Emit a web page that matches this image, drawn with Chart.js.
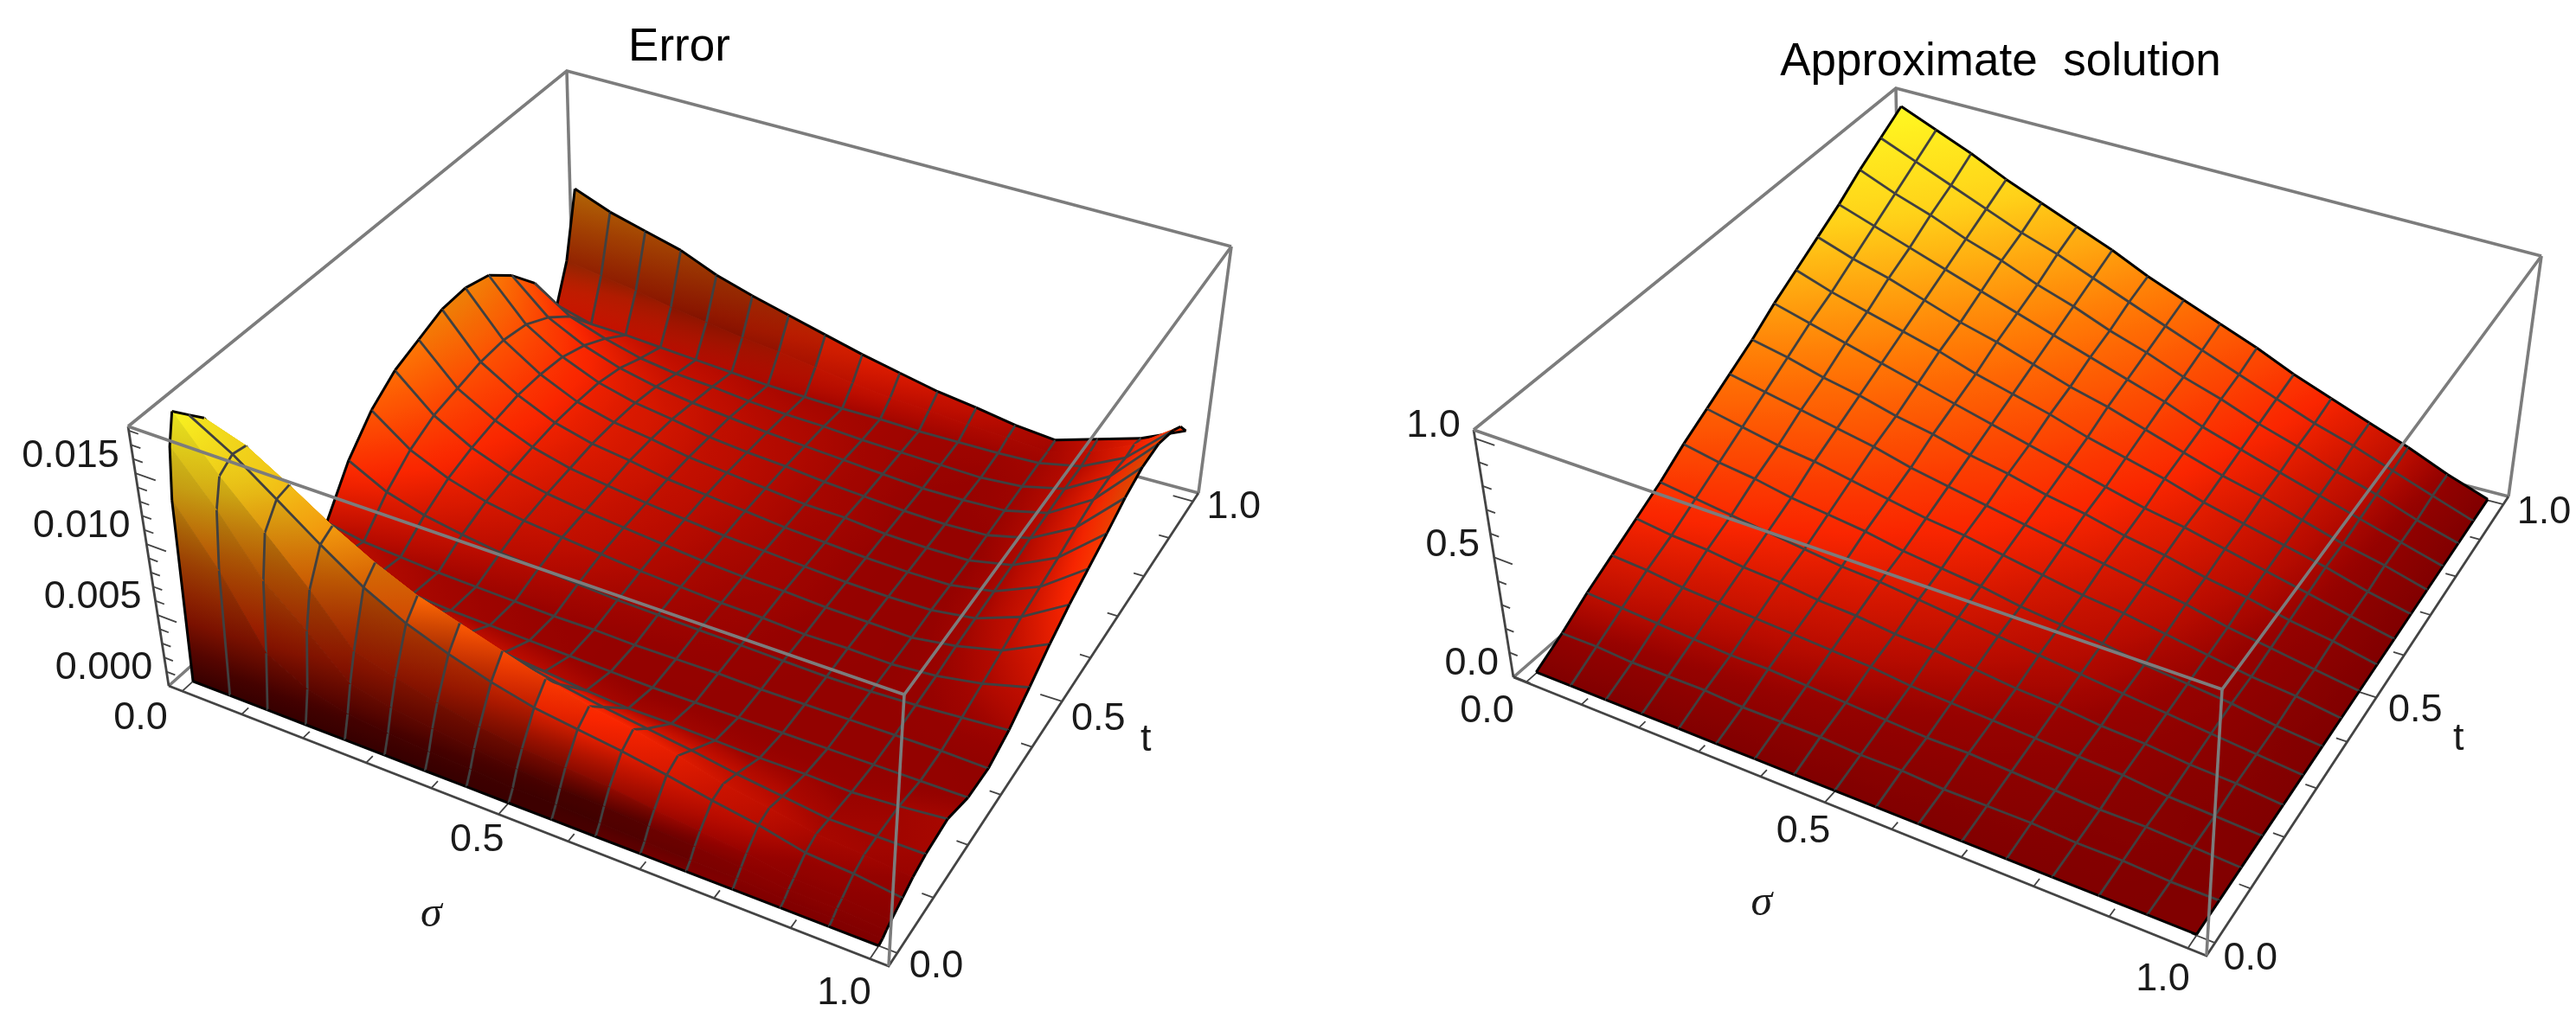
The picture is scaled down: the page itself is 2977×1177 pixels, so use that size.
<!DOCTYPE html>
<html>
<head>
<meta charset="utf-8">
<title>Error and approximate solution</title>
<script src="https://cdn.jsdelivr.net/npm/chart.js@4"></script>
<style>
html,body{margin:0;padding:0;background:#fff;width:2977px;height:1177px;overflow:hidden}
canvas{position:absolute;top:0}
</style>
</head>
<body>
<canvas id="errChart" width="1570" height="1177" style="left:0"></canvas>
<canvas id="solChart" width="1424" height="1177" style="left:1600px"></canvas>
<script>
// mesh columns, shared by both surfaces
const sigmaVals=[0,.0625,.125,.1875,.25,.3125,.375,.4375,.5,.5625,.625,.6875,.75,.8125,.875,.9375,1];

// Error surface. Extra t rows near 0 and 1 follow the steep walls.
const errT=[0,.01,.02,.033,.0625,.09,.125,.1875,.25,.3125,.375,.4375,.5,.5625,.625,.6875,.75,.8125,.875,.9375,.97,1];
// units of 1e-4
const errZ=[
[0,0,0,0,0,0,0,0,0,0,0,0,0,0,0,0,0],
[125,85,37,22,15,12,10,9,7,7,6,5,4,4,2,2,1],
[160,125,85,60,33,27,23,20,17,15,14,12,10,8,5,5,3],
[181,145,115,85,52,44,37,31,27,25,23,19,16,13,8,7,5],
[170,152,130,108,88,73,62,53,46,42,38,33,27,22,15,13,9],
[160,150,132,113,97,84,75,66,57,49,44,37,29,24,18,16,13],
[132,113,95,81,70,60,53,48,42,37,33,29,24,20,16,16,16],
[70,59,48,37,31,27,24,21,18,16,16,15,14,14,13,15,18],
[27,26,21,18,16,15,14,13,12,11,11,11,11,11,11,11,11],
[25,20,18,16,15,14,13,13,12,12,12,11,11,11,11,11,10],
[53,39,31,26,22,20,18,16,15,14,13,12,11,11,12,14,16],
[73,53,41,33,28,25,22,19,17,15,14,12,12,11,13,18,26],
[86,62,47,37,31,27,24,21,18,16,15,13,12,11,15,22,37],
[93,66,51,40,33,29,25,22,19,17,15,13,12,12,16,27,46],
[100,70,54,42,35,31,26,23,20,17,15,13,12,12,17,30,53],
[101,71,54,42,35,31,26,23,20,17,16,13,12,12,18,33,60],
[96,68,52,41,34,30,25,22,20,17,15,13,12,13,20,37,68],
[82,59,46,37,31,27,24,21,19,17,15,13,13,14,21,40,73],
[63,46,37,30,26,24,21,19,18,16,15,14,13,15,22,40,73],
[34,27,26,24,22,20,18,17,16,16,15,15,15,16,22,37,66],
[59,55,51,46,42,38,35,31,27,24,22,20,18,16,24,38,60],
[105,95,88,81,70,62,55,48,41,35,29,25,20,17,26,35,49]
];
const errAxisRange=[0,183];
const errZTicks=[0,10,20,30,40,50,60,70,80,90,100,110,120,130,140,150,160,170,180];
const errZMajor=[0,50,100,150];
const errZLabels=['0.000','0.005','0.010','0.015'];

// Approximate solution surface
const solT=[0,.0625,.125,.1875,.25,.3125,.375,.4375,.5,.5625,.625,.6875,.75,.8125,.875,.9375,1];
const solZ=[
[0,0,0,0,0,0,0,0,0,0,0,0,0,0,0,0,0],
[.06,.06,.05,.05,.05,.04,.04,.04,.03,.03,.02,.02,.02,.01,.01,0,0],
[.13,.12,.11,.10,.09,.09,.08,.07,.06,.05,.05,.04,.03,.02,.02,.01,0],
[.19,.18,.16,.15,.14,.13,.12,.11,.09,.08,.07,.06,.05,.04,.02,.01,0],
[.25,.23,.22,.20,.19,.17,.16,.14,.13,.11,.09,.08,.06,.05,.03,.02,0],
[.31,.29,.27,.25,.23,.21,.20,.18,.16,.14,.12,.10,.08,.06,.04,.02,0],
[.38,.35,.33,.30,.28,.26,.23,.21,.19,.16,.14,.12,.09,.07,.05,.02,0],
[.44,.41,.38,.36,.33,.30,.27,.25,.22,.19,.16,.14,.11,.08,.05,.03,0],
[.50,.47,.44,.41,.38,.34,.31,.28,.25,.22,.19,.16,.13,.09,.06,.03,0],
[.56,.53,.49,.46,.42,.39,.35,.32,.28,.25,.21,.18,.14,.11,.07,.04,0],
[.63,.59,.55,.51,.47,.43,.39,.35,.31,.27,.23,.20,.16,.12,.08,.04,0],
[.69,.64,.60,.56,.52,.47,.43,.39,.34,.30,.26,.21,.17,.13,.09,.04,0],
[.75,.70,.66,.61,.56,.52,.47,.42,.38,.33,.28,.23,.19,.14,.09,.05,0],
[.81,.76,.71,.66,.61,.56,.51,.46,.41,.36,.30,.25,.20,.15,.10,.05,0],
[.88,.82,.77,.71,.66,.60,.55,.49,.44,.38,.33,.27,.22,.16,.11,.05,0],
[.94,.88,.82,.76,.70,.65,.59,.53,.47,.41,.35,.29,.23,.18,.12,.06,0],
[1,.94,.88,.81,.75,.69,.63,.56,.5,.44,.38,.31,.25,.19,.13,.06,0]
];
const solAxisRange=[-.004,1.036];
const solZTicks=[0,.1,.2,.3,.4,.5,.6,.7,.8,.9,1];
const solZMajor=[0,.5,1];
const solZLabels=['0.0','0.5','1.0'];

// ticks on the two floor axes
const floorTicks=[0,.1,.2,.3,.4,.5,.6,.7,.8,.9,1];
const floorMajor=[0,.5,1];
const floorLabels=['0.0','0.5','1.0'];

// colour ramp of the surface, by height as a share of the box
const rampAt=[0,.07,.12,.25,.5,.75,1];
const rampRGB=[[128,0,0],[150,2,0],[185,12,0],[250,38,0],[255,120,5],[255,210,25],[255,255,35]];

const GRAY='#7c7c7c',MESH='#404040',AXIS='#444444';
const LABEL_FONT='45px "Liberation Sans"';

// box corners on screen, camera of each panel
const errView={
  floor:[[195,793],[1027,1117],[1385,570],[663,375]],
  top:[[148,493],[1045,803],[1423,285],[655,82]],
  pad:.022,
  zGap:[-75,-20],
  sGap:[[-48,32],[-25,30],[-30,40]],
  tGap:[[45,16],[42,21],[47,7]],
  sigmaGap:[-78,116],letterGap:[97,45]
};
const solView={
  floor:[[1749,783],[2550,1105],[2899,574],[2197,392]],
  top:[[1703,497],[2568,797],[2937,296],[2191,102]],
  pad:.022,
  zGap:[-48,-14],
  sGap:[[-45,34],[-25,34],[-29,36]],
  tGap:[[41,19],[45,15],[47,9]],
  sigmaGap:[-73,117],letterGap:[95,48]
};

function homography(q){
  const [[x0,y0],[x1,y1],[x2,y2],[x3,y3]]=q;
  const dx1=x1-x2,dx2=x3-x2,sx=x0-x1+x2-x3,dy1=y1-y2,dy2=y3-y2,sy=y0-y1+y2-y3;
  const den=dx1*dy2-dx2*dy1;
  const g=(sx*dy2-dx2*sy)/den,h=(dx1*sy-sx*dy1)/den;
  const a=x1-x0+g*x1,b=x3-x0+h*x3,d=y1-y0+g*y1,e=y3-y0+h*y3;
  return (u,v)=>{const w=g*u+h*v+1;return [(a*u+b*v+x0)/w,(d*u+e*v+y0)/w];};
}

function rampColor(v){
  v=Math.max(0,Math.min(1,v));
  let k=0;
  while(k<rampAt.length-2&&v>rampAt[k+1]) k++;
  const f=(v-rampAt[k])/(rampAt[k+1]-rampAt[k]);
  return rampRGB[k].map((c,n)=>c+(rampRGB[k+1][n]-c)*f);
}

const css=(c,s)=>`rgb(${c.map(x=>Math.round(x*s)).join(',')})`;

function buildPanel(id,view,tVals,zTable,range,zTicks,zMajor,zLabels,title,titleTop,xMin,xMax){
  const floorH=homography(view.floor),topH=homography(view.top);
  const box=(u,v,w)=>{
    const a=floorH(u,v),b=topH(u,v);
    return {x:a[0]+(b[0]-a[0])*w,y:a[1]+(b[1]-a[1])*w};
  };
  const inset=s=>view.pad+s*(1-2*view.pad);
  const frac=z=>(z-range[0])/(range[1]-range[0]);
  const surf=(i,j)=>box(inset(sigmaVals[i]),inset(tVals[j]),frac(zTable[j][i]));

  // slope darkens the steep walls
  const vertexShade=(i,j)=>{
    const a=frac(zTable[j][i]);
    const j0=Math.max(0,j-1),j1=Math.min(tVals.length-1,j+1),i0=Math.max(0,i-1),i1=Math.min(16,i+1);
    const dT=Math.abs(frac(zTable[j1][i])-frac(zTable[j0][i]))/(tVals[j1]-tVals[j0]);
    const dS=Math.abs(frac(zTable[j][i1])-frac(zTable[j][i0]))/(sigmaVals[i1]-sigmaVals[i0]);
    const steep=Math.max(0,Math.min(1,(Math.max(dT,dS)-2.2)/1.8));
    const low=.42+.5*a;
    return 1-(1-low)*steep;
  };

  // gradient of one cell: plane fit of height over the screen, so that neighbours line up
  const cellPaint=(i,j)=>{
    const idx=[[i,j],[i+1,j],[i+1,j+1],[i,j+1]];
    const P=idx.map(([a,b])=>surf(a,b));
    const Z=idx.map(([a,b])=>frac(zTable[b][a]));
    const S=idx.map(([a,b])=>vertexShade(a,b));
    const mx=P.reduce((s,p)=>s+p.x,0)/4,my=P.reduce((s,p)=>s+p.y,0)/4,mz=Z.reduce((s,z)=>s+z,0)/4;
    let xx=0,xy=0,yy=0,xz=0,yz=0;
    P.forEach((p,n)=>{const dx=p.x-mx,dy=p.y-my,dz=Z[n]-mz;xx+=dx*dx;xy+=dx*dy;yy+=dy*dy;xz+=dx*dz;yz+=dy*dz;});
    const det=xx*yy-xy*xy;
    const order=Z.map((z,n)=>[z,n]).sort((a,b)=>a[0]-b[0]);
    const zLo=order[0][0],zHi=order[3][0];
    const sLo=(S[order[0][1]]+S[order[1][1]])/2,sHi=(S[order[2][1]]+S[order[3][1]])/2;
    const colorAt=f=>css(rampColor(zLo+(zHi-zLo)*f),sLo+(sHi-sLo)*f);
    let gx=0,gy=0;
    if(det>1) {gx=(xz*yy-yz*xy)/det;gy=(yz*xx-xz*xy)/det;}
    const g2=gx*gx+gy*gy;
    if(zHi-zLo<1e-3||g2<1e-12) return colorAt(.5);
    const from={x:mx+gx*(zLo-mz)/g2,y:my+gy*(zLo-mz)/g2},to={x:mx+gx*(zHi-mz)/g2,y:my+gy*(zHi-mz)/g2};
    return ctx=>{
      const ch=ctx.chart;
      if(!ch.chartArea) return colorAt(.5);
      const sx=ch.scales.x,sy=ch.scales.y;
      const grad=ch.ctx.createLinearGradient(sx.getPixelForValue(from.x),sy.getPixelForValue(from.y),sx.getPixelForValue(to.x),sy.getPixelForValue(to.y));
      for(let k=0;k<=6;k++) grad.addColorStop(k/6,colorAt(k/6));
      return grad;
    };
  };

  const back=[]; // painted far to near
  const line=(data,color,width)=>back.push({data,borderColor:color,borderWidth:width,showLine:true,pointRadius:0,fill:false,clip:false,tension:0,spanGaps:false});
  const GAP={x:NaN,y:NaN};

  // back of the box
  const c=[box(0,0,0),box(1,0,0),box(1,1,0),box(0,1,0),box(0,0,1),box(1,0,1),box(1,1,1),box(0,1,1)];
  line([c[0],c[3],c[2]],GRAY,3.6);
  line([c[3],c[7]],GRAY,3.6);
  line([c[4],c[7],c[6]],GRAY,3.6);
  line([c[6],c[2]],GRAY,3.6);
  line([c[4],c[0]],AXIS,2.8);
  line([c[0],c[1],c[2]],AXIS,2.8);

  // axis ticks
  const sTicks=[],tTicks=[],zT=[];
  floorTicks.forEach(v=>{
    const len=floorMajor.includes(v)?.028:.014;
    sTicks.push(box(inset(v),0,0),box(inset(v),len,0),GAP);
    tTicks.push(box(1,inset(v),0),box(1-len,inset(v),0),GAP);
  });
  zTicks.forEach(v=>{
    const len=zMajor.includes(v)?.03:.014;
    zT.push(box(0,0,frac(v)),box(len,0,frac(v)),GAP);
  });
  line(sTicks,AXIS,1.8);line(tTicks,AXIS,1.8);line(zT,AXIS,1.8);

  // surface, far rows first
  const onMesh=t=>Math.abs(t*16-Math.round(t*16))<1e-6;
  const nT=tVals.length-1;
  for(let j=nT-1;j>=0;j--){
    for(let i=0;i<16;i++){
      const a=surf(i,j),b=surf(i+1,j),d=surf(i+1,j+1),e=surf(i,j+1);
      const paint=cellPaint(i,j);
      back.push({data:[a,b,d,e,a],fill:'shape',backgroundColor:paint,borderColor:paint,borderWidth:1,showLine:true,pointRadius:0,tension:0,clip:false});
      const mesh=[];
      if(i>0) mesh.push(a,e,GAP);
      if(j+1<nT&&onMesh(tVals[j+1])) mesh.push(e,d,GAP);
      if(mesh.length) line(mesh,MESH,2.8);
      const edge=[];
      if(i===0) edge.push(a,e,GAP);
      if(i===15) edge.push(b,d,GAP);
      if(j===nT-1) edge.push(e,d,GAP);
      if(j===0) edge.push(a,b,GAP);
      if(edge.length) line(edge,'#000',3);
    }
  }

  // front of the box goes over the surface
  line([c[4],c[5],c[6]],GRAY,3.6);
  line([c[5],c[1]],GRAY,3.6);

  const texts=[];
  zMajor.forEach((v,n)=>{const p=box(0,0,frac(v));texts.push([zLabels[n],p.x+view.zGap[0],p.y+view.zGap[1],LABEL_FONT]);});
  floorMajor.forEach((v,n)=>{
    const p=box(inset(v),0,0),q=box(1,inset(v),0);
    texts.push([floorLabels[n],p.x+view.sGap[n][0],p.y+view.sGap[n][1],LABEL_FONT]);
    texts.push([floorLabels[n],q.x+view.tGap[n][0],q.y+view.tGap[n][1],LABEL_FONT]);
  });
  const sm=box(inset(.5),0,0),tm=box(1,inset(.5),0);
  texts.push(['σ',sm.x+view.sigmaGap[0],sm.y+view.sigmaGap[1],'italic 50px "Liberation Serif"']);
  texts.push(['t',tm.x+view.letterGap[0],tm.y+view.letterGap[1],LABEL_FONT]);

  const labelPlugin={id:'boxLabels',afterDraw(ch){
    const g=ch.ctx,sx=ch.scales.x,sy=ch.scales.y;
    g.save();g.fillStyle='#1a1a1a';g.textAlign='center';g.textBaseline='middle';
    texts.forEach(([s,x,y,f])=>{g.font=f;g.fillText(s,sx.getPixelForValue(x),sy.getPixelForValue(y));});
    g.restore();
  }};

  return new Chart(document.getElementById(id),{
    type:'scatter',
    data:{datasets:back.reverse()},
    options:{responsive:false,animation:false,events:[],
      layout:{padding:0},
      plugins:{legend:{display:false},tooltip:{enabled:false},
        title:{display:true,text:title,color:'#000',padding:{top:titleTop,bottom:0},font:{family:'"Liberation Sans"',size:53,weight:'normal',lineHeight:'64px'}}},
      scales:{
        x:{type:'linear',display:false,min:xMin,max:xMax},
        y:{type:'linear',display:false,reverse:true,min:titleTop+64,max:1177}
      }},
    plugins:[labelPlugin]
  });
}

buildPanel('errChart',errView,errT,errZ,errAxisRange,errZTicks,errZMajor,errZLabels,'Error',23,0,1570);
buildPanel('solChart',solView,solT,solZ,solAxisRange,solZTicks,solZMajor,solZLabels,'Approximate  solution',40,1600,3024);
</script>
</body>
</html>
